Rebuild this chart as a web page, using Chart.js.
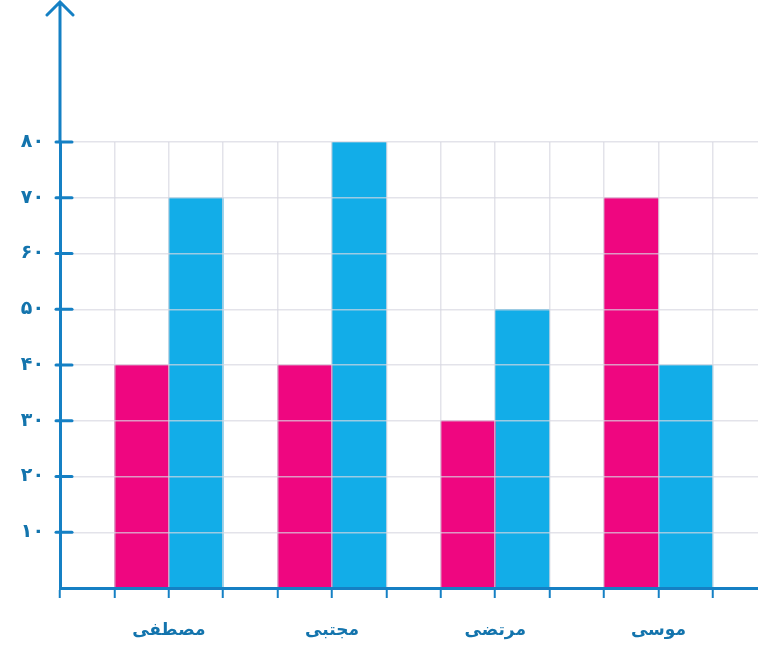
<!DOCTYPE html>
<html>
<head>
<meta charset="utf-8">
<script src="https://cdn.jsdelivr.net/npm/chart.js@4.4.1/dist/chart.umd.min.js"></script>
<style>
  html, body { margin: 0; padding: 0; background: #fff; }
  #wrap { width: 758px; height: 646px; }
</style>
</head>
<body>
<div id="wrap"><canvas id="chart"></canvas></div>
<script>
// Data
const names = ['مصطفی', 'مجتبی', 'مرتضی', 'موسی'];
const pinkValues = [40, 40, 30, 70];
const blueValues = [70, 80, 50, 40];
const yTicks = [10, 20, 30, 40, 50, 60, 70, 80];
const yTickLabels = ['۱۰', '۲۰', '۳۰', '۴۰', '۵۰', '۶۰', '۷۰', '۸۰'];

// Each name takes three grid columns: pink, blue, empty
const colsPerGroup = 3;
const totalCols = 12.83;

const axisBlue = '#1580c4';
const labelBlue = '#1374ad';
const gridColor = 'rgba(215, 215, 225, 0.7)';

const pinkPoints = pinkValues.map((v, i) => ({ x: i * colsPerGroup + 1.5, y: v }));
const bluePoints = blueValues.map((v, i) => ({ x: i * colsPerGroup + 2.5, y: v }));

// Axis arrow above the grid and short marks crossing the y axis
const axisExtras = {
    id: 'axisExtras',
    afterDraw(chart) {
        const c = chart.ctx;
        const y = chart.scales.y;
        const x0 = y.right;
        c.save();
        c.strokeStyle = axisBlue;
        c.lineWidth = 3;
        c.lineCap = 'round';
        c.beginPath();
        c.moveTo(x0, chart.chartArea.top);
        c.lineTo(x0, 3);
        c.moveTo(x0 - 13, 15);
        c.lineTo(x0, 2);
        c.lineTo(x0 + 13, 15);
        c.stroke();
        yTicks.forEach(v => {
            const py = y.getPixelForValue(v);
            c.beginPath();
            c.moveTo(x0 - 4, py);
            c.lineTo(x0 + 12, py);
            c.stroke();
        });
        c.restore();
    }
};

new Chart(document.getElementById('chart'), {
    type: 'bar',
    data: {
        datasets: [
            { data: pinkPoints, backgroundColor: '#ef0680', grouped: false,
              barPercentage: 1, categoryPercentage: 1 },
            { data: bluePoints, backgroundColor: '#12ade8', grouped: false,
              barPercentage: 1, categoryPercentage: 1 }
        ]
    },
    options: {
        responsive: true,
        maintainAspectRatio: false,
        animation: false,
        layout: { padding: { top: 142, right: 0, left: 0, bottom: 0 } },
        plugins: { legend: { display: false }, tooltip: { enabled: false } },
        scales: {
            x: {
                type: 'linear',
                min: 0,
                max: totalCols,
                offset: false,
                afterBuildTicks: scale => {
                    const t = [];
                    for (let i = 0; i <= 12; i++) t.push({ value: i });
                    scale.ticks = t;
                },
                afterFit: scale => { scale.height = 58; },
                grid: { offset: false, z: 1, color: gridColor, lineWidth: 1.5, tickLength: 10,
                        tickColor: axisBlue, tickWidth: 2 },
                border: { color: axisBlue, width: 3, z: 2 },
                ticks: {
                    autoSkip: false,
                    maxRotation: 0,
                    padding: 22,
                    color: labelBlue,
                    font: { family: 'DejaVu Sans', size: 17, weight: 'bold' },
                    callback: v => ((v - 2) % colsPerGroup === 0 ? names[(v - 2) / colsPerGroup] : '')
                }
            },
            y: {
                min: 0,
                max: 80,
                afterBuildTicks: scale => {
                    scale.ticks = [0].concat(yTicks).map(v => ({ value: v }));
                },
                afterFit: scale => { scale.width = 60; },
                grid: { z: 1, color: gridColor, lineWidth: 1.5, drawTicks: false },
                border: { color: axisBlue, width: 3, z: 2 },
                ticks: {
                    padding: 16,
                    color: labelBlue,
                    font: { family: 'DejaVu Sans', size: 19, weight: 'bold' },
                    callback: v => {
                        const i = yTicks.indexOf(v);
                        return i < 0 ? '' : yTickLabels[i];
                    }
                }
            }
        }
    },
    plugins: [axisExtras]
});
</script>
</body>
</html>
